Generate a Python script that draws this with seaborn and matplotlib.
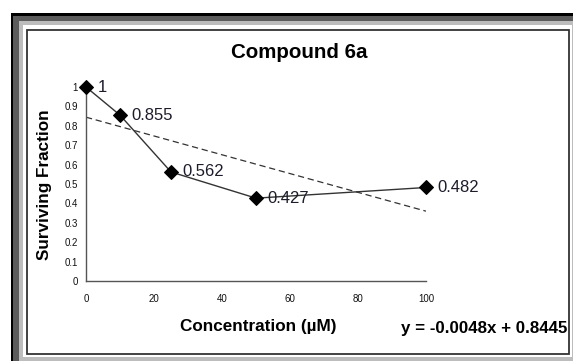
import matplotlib
matplotlib.use("Agg")
import matplotlib.pyplot as plt
import numpy as np
import pandas as pd
import seaborn as sns
from matplotlib.patches import Rectangle

# dados
concentracao = [0, 10, 25, 50, 100]
fracao = [1, 0.855, 0.562, 0.427, 0.482]
rotulos = ["1", "0.855", "0.562", "0.427", "0.482"]
titulo = "Compound 6a"

W, H = 573, 361

sns.set_theme(style="white")
plt.rcParams["font.family"] = ["Liberation Sans", "DejaVu Sans"]

fig = plt.figure(figsize=(W / 100, H / 100), dpi=100)
fig.patch.set_facecolor("white")


def px(x0, y0, x1, y1):
    # converte pixels (origem no topo) para fração da figura
    return x0 / W, 1 - y1 / H, (x1 - x0) / W, (y1 - y0) / H


def caixa(x0, y0, x1, y1, **kw):
    l, b, w, h = px(x0, y0, x1, y1)
    fig.add_artist(Rectangle((l, b), w, h, transform=fig.transFigure, zorder=-10, **kw))


# moldura estilo screenshot do Excel
caixa(11, 13, 640, 420, facecolor="black", edgecolor="none")
caixa(13, 16, 640, 420, facecolor="#5c5c5c", edgecolor="none")
caixa(19, 21, 640, 420, facecolor="#bdbdbd", edgecolor="none")
caixa(23, 25, 572, 357, facecolor="white", edgecolor="none")
caixa(27, 29.5, 569, 354, facecolor="white", edgecolor="#333333", linewidth=1.3)

ax = fig.add_axes(px(86, 87, 426, 281))
ax.set_zorder(5)
ax.set_facecolor("none")

df = pd.DataFrame({"conc": concentracao, "frac": fracao})
sns.lineplot(data=df, x="conc", y="frac", ax=ax, color="#333333", linewidth=1,
             marker="D", markersize=7.5, markerfacecolor="black",
             markeredgecolor="black", clip_on=False, zorder=3)

# linha de tendência linear
a, b = np.polyfit(concentracao, fracao, 1)
xs = np.array([min(concentracao), max(concentracao)])
sns.lineplot(x=xs, y=a * xs + b, ax=ax, color="#333333", linewidth=0.9,
             linestyle=(0, (5, 3)), zorder=2)

for x, y, r in zip(concentracao, fracao, rotulos):
    ax.annotate(r, (x, y), xytext=(8.5, 0), textcoords="offset points",
                va="center", ha="left", fontsize=12, color="#1c1c2a")

ax.set_xlim(0, 100)
ax.set_ylim(0, 1)
ax.set_xticks(range(0, 101, 20))
ax.set_yticks(np.arange(0, 1.01, 0.1))
ax.set_yticklabels(["0"] + [f"{v:.1f}" for v in np.arange(0.1, 0.95, 0.1)] + ["1"])
ax.tick_params(axis="both", direction="out", length=3, width=0.8, color="#444444",
               labelsize=7, labelcolor="#111111")
ax.tick_params(axis="y", pad=3)
ax.tick_params(axis="x", pad=6)
ax.set_xlabel("")
ax.set_ylabel("")
for lado in ["top", "right"]:
    ax.spines[lado].set_visible(False)
for lado in ["left", "bottom"]:
    ax.spines[lado].set_color("#555555")
    ax.spines[lado].set_linewidth(1)

fig.text(299 / W, 1 - 53 / H, titulo, ha="center", va="center",
         fontsize=14.8, fontweight="bold", color="black")
fig.text(45 / W, 1 - 185 / H, "Surviving Fraction", ha="center", va="center",
         rotation=90, fontsize=12.3, fontweight="bold", color="black")
fig.text(258 / W, 1 - 327 / H, "Concentration (µM)", ha="center", va="center",
         fontsize=12.3, fontweight="bold", color="black")
fig.text(567 / W, 1 - 329 / H, f"y = {a:.4f}x + {b:.4f}", ha="right", va="center",
         fontsize=12.2, fontweight="bold", color="black")

fig.savefig("out.png", dpi=100)
